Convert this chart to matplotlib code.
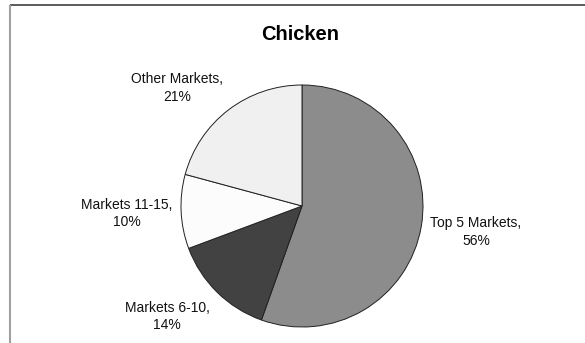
import matplotlib.pyplot as plt

plt.rcParams['font.family'] = ['Liberation Sans', 'DejaVu Sans']

# market share of chicken, going clockwise from 12 o'clock
markets = ["Top 5 Markets", "Markets 6-10", "Markets 11-15", "Other Markets"]
shares = [56, 14, 10, 21]
colors = ['#8c8c8c', '#424242', '#fcfcfc', '#f0f0f0']

# label centres in pixel units (x right, y up)
label_pos = [(476, 111), (167, 26.5), (127, 129.5), (177, 255)]

W, H = 585, 343
fig = plt.figure(figsize=(W / 100, H / 100), dpi=100)
ax = fig.add_axes([0, 0, 1, 1])

wedges, _ = ax.pie(shares, colors=colors, startangle=90, counterclock=False,
                   center=(302, H - 206), radius=121, frame=True,
                   wedgeprops=dict(edgecolor='#202020', linewidth=0.7))
ax.set_xlim(0, W)
ax.set_ylim(0, H)
ax.set_aspect('equal')
ax.axis('off')

for name, val, (x, y) in zip(markets, shares, label_pos):
    ax.text(x, y, f"{name},\n{val}%", ha='center', va='center',
            fontsize=10, linespacing=1.3, color='#111111')

ax.text(300, H - 34, "Chicken", ha='center', va='center',
        fontsize=14.5, fontweight='bold')

# chart area frame (only top and left edges fall inside the image)
ax.plot([9.5, W], [H - 5, H - 5], color='#404040', lw=1.2, solid_capstyle='butt')
ax.plot([9.5, 9.5], [0, H - 5], color='#a0a0a0', lw=1.5, solid_capstyle='butt')

fig.savefig('out.png', dpi=100)
